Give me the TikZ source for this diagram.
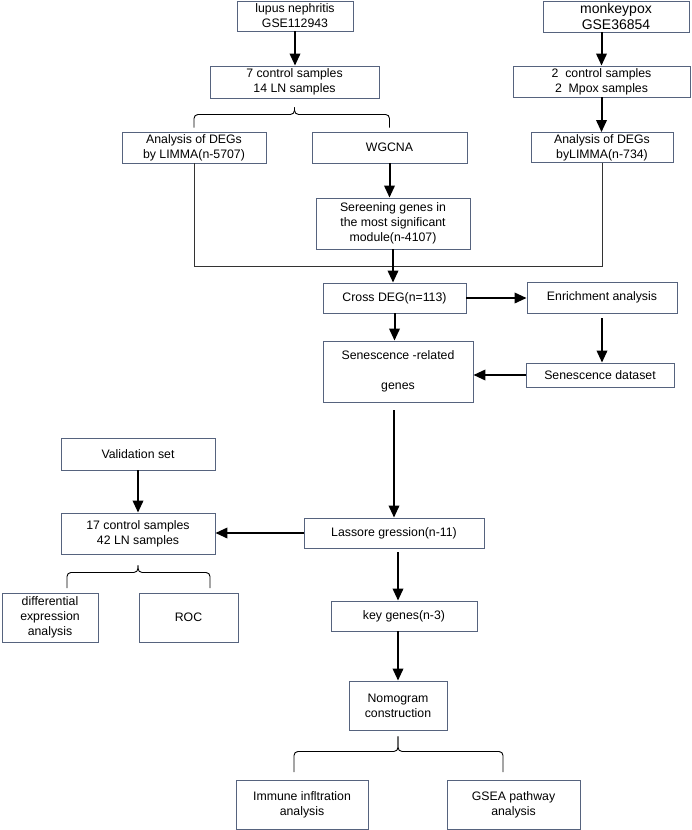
\documentclass[tikz,border=0pt]{standalone}
\usepackage{fontspec}
\setmainfont{Liberation Sans}
\usepackage{xcolor}
\usetikzlibrary{arrows.meta,positioning}
\definecolor{boxline}{HTML}{56637E}
\tikzset{
	stage/.style={draw=boxline, line width=0.9pt, fill=white, inner sep=1pt, align=center, font=\fontsize{12.3}{15}\selectfont},
	flow/.style={line width=2pt, -{Triangle[length=12pt,width=10.5pt]}},
	mergeline/.style={draw=black!80, line width=0.9pt},
	fork/.style={line width=0.9pt, rounded corners=4pt}
}
% brace: #1 tip, #2 left leg, #3 right leg, #4 depth of the tip
\newcommand{\forkbrace}[4]{%
	\draw[fork] (#2) |- ([yshift=-#4]#1) -- (#1);
	\draw[fork] (#1) -- ([yshift=-#4]#1) -| (#3);
}

\begin{document}
\begin{tikzpicture}[x=1pt, y=-1pt]
	\useasboundingbox (0,0) rectangle (692,830);

	% datasets
	\node[stage, minimum width=116pt, minimum height=30pt] (lupus) at (295,16) {lupus nephritis\\GSE112943};
	\node[stage, minimum width=146pt, minimum height=31pt, font=\fontsize{14}{16}\selectfont] (mpox) at (616,16.5) {monkeypox\\GSE36854};
	\node[stage, minimum width=169pt, minimum height=32pt] (ctrl1) at (294.5,82) {7 control samples\\14 LN samples};
	\node[stage, minimum width=177pt, minimum height=31pt] (ctrl2) at (601.5,81.5) {2\ \ control samples\\2\ \ Mpox samples};

	% first analyses
	\node[stage, minimum width=144pt, minimum height=31pt] (limma1) at (194,147.5) {Analysis of DEGs\\by LIMMA(n-5707)};
	\node[stage, minimum width=155pt, minimum height=31pt] (wgcna) at (389.5,147.5) {WGCNA};
	\node[stage, minimum width=142pt, minimum height=30pt] (limma2) at (602,147.5) {Analysis of DEGs\\byLIMMA(n-734)};
	\node[stage, minimum width=154pt, minimum height=51pt] (screen) at (393,223.5) {Sereening genes in\\the most significant\\module(n-4107)};

	% common genes
	\node[stage, minimum width=143pt, minimum height=30pt] (cross) at (394.5,298) {Cross DEG(n=113)};
	\node[stage, minimum width=150pt, minimum height=31pt] (enrich) at (602,297.5) {Enrichment analysis};
	\node[stage, minimum width=150pt, minimum height=61pt] (sengenes) at (398,371.5) {Senescence -related\\[15pt]genes};
	\node[stage, minimum width=148pt, minimum height=24pt] (sendata) at (600,375) {Senescence dataset};

	% validation and model
	\node[stage, minimum width=154pt, minimum height=32pt] (valid) at (138,454) {Validation set};
	\node[stage, minimum width=154pt, minimum height=41pt] (ctrl3) at (138,533.5) {17 control samples\\42 LN samples};
	\node[stage, minimum width=180pt, minimum height=30pt] (lasso) at (394,533) {Lassore gression(n-11)};
	\node[stage, minimum width=96pt, minimum height=49pt] (diffexp) at (50,617.5) {differential\\expression\\analysis};
	\node[stage, minimum width=99pt, minimum height=49pt] (roc) at (188.5,617.5) {ROC};
	\node[stage, minimum width=146pt, minimum height=30pt] (keygenes) at (404,616) {key genes(n-3)};
	\node[stage, minimum width=98pt, minimum height=49pt] (nomo) at (398,705.5) {Nomogram\\construction};
	\node[stage, minimum width=132pt, minimum height=49pt] (immune) at (302,804.5) {Immune infltration\\analysis};
	\node[stage, minimum width=133pt, minimum height=49pt] (gsea) at (513.5,804.5) {GSEA pathway\\analysis};

	% arrows
	\draw[flow] (lupus.south) -- (lupus.south |- ctrl1.north);
	\draw[flow] (mpox.south -| ctrl2) -- (ctrl2.north);
	\draw[flow] (ctrl2.south) -- (ctrl2.south |- limma2.north);
	\draw[flow] (wgcna.south) -- (wgcna.south |- screen.north);

	\coordinate (merge) at (393,266);
	\draw[mergeline] (limma1.south) |- (merge);
	\draw[mergeline] (limma2.south) |- (merge);
	\draw[flow] (screen.south) -- (screen.south |- cross.north);

	\draw[flow] (cross.east) -- (cross.east -| enrich.west);
	\draw[flow] (cross.south) -- (cross.south |- sengenes.north);
	\draw[flow, shorten <=5pt] (enrich.south) -- (enrich.south |- sendata.north);
	\draw[flow] (sendata.west) -- (sendata.west -| sengenes.east);
	\draw[flow, shorten <=8pt] (sengenes.south -| lasso) -- (lasso.north);

	\draw[flow] (lasso.west) -- (lasso.west -| ctrl3.east);
	\draw[flow] (valid.south) -- (ctrl3.north);
	\draw[flow, shorten <=4pt] (lasso.south -| nomo) -- (keygenes.north -| nomo);
	\draw[flow] (keygenes.south -| nomo) -- (nomo.north);

	% braces
	\coordinate (tip1) at ([yshift=-9pt]ctrl1.south);
	\forkbrace{tip1}{[yshift=4pt]limma1.north}{[yshift=4pt]wgcna.north}{7pt}
	\coordinate (tip2) at ([yshift=-11pt]ctrl3.south);
	\coordinate (leg2a) at (67,588);
	\coordinate (leg2b) at (210,588);
	\forkbrace{tip2}{leg2a}{leg2b}{7pt}
	\coordinate (tip3) at ([yshift=-6pt]nomo.south);
	\coordinate (leg3a) at (294,772);
	\coordinate (leg3b) at (503,772);
	\forkbrace{tip3}{leg3a}{leg3b}{15pt}
\end{tikzpicture}
\end{document}
